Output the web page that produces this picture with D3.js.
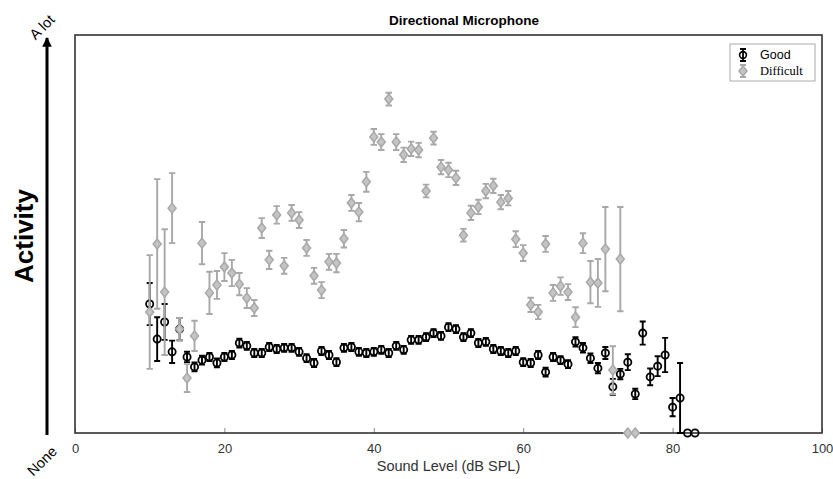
<!DOCTYPE html>
<html>
<head>
<meta charset="utf-8">
<script src="https://cdn.jsdelivr.net/npm/d3@7"></script>
<style>
  body { margin: 0; background: #fff; }
  text { font-family: "Liberation Sans", Arial, sans-serif; }
</style>
</head>
<body>
<script>
var svgWidth = 833;
var svgHeight = 479;

var margin = { top: 35, right: 11, bottom: 46, left: 75 };
var width = svgWidth - margin.left - margin.right;
var height = svgHeight - margin.top - margin.bottom;

// sound levels (dB SPL)
var goodLevels = [10, 11, 12, 13, 14, 15, 16, 17, 18, 19, 20, 21, 22, 23, 24, 25, 26, 27, 28, 29,
  30, 31, 32, 33, 34, 35, 36, 37, 38, 39, 40, 41, 42, 43, 44, 45, 46, 47, 48, 49,
  50, 51, 52, 53, 54, 55, 56, 57, 58, 59, 60, 61, 62, 63, 64, 65, 66, 67, 68, 69,
  70, 71, 72, 73, 74, 75, 76, 77, 78, 79, 80, 81, 82, 83];
var goodMean = [32.4, 23.6, 27.9, 20.4, 26.1, 19.1, 16.6, 18.3, 19.1, 17.6, 19.1, 19.6, 22.6, 21.9, 20.1, 20.1, 21.6, 21.1, 21.4, 21.4,
  20.4, 18.8, 17.6, 20.6, 19.6, 17.8, 21.4, 21.6, 20.4, 20.1, 20.4, 20.9, 20.1, 21.9, 20.9, 23.4, 23.4, 24.1, 25.1, 24.4,
  26.6, 26.1, 24.1, 25.1, 22.6, 22.9, 21.1, 20.6, 20.1, 20.6, 17.8, 17.6, 19.6, 15.3, 19.1, 18.3, 17.3, 22.9, 21.4, 18.8,
  16.3, 20.1, 11.6, 14.8, 17.8, 9.8, 25.1, 14.1, 16.8, 19.6, 6.5, 8.8, 0, 0];
var goodErr = [5.3, 5.5, 4.5, 2.8, 2.8, 1.3, 1.1, 1.1, 1.0, 1.1, 1.0, 1.0, 1.1, 1.0, 1.0, 1.0, 1.0, 1.0, 1.0, 1.0,
  1.0, 1.0, 1.0, 1.0, 1.0, 1.0, 1.0, 1.0, 1.0, 1.0, 1.0, 1.0, 1.0, 1.0, 1.0, 1.0, 1.0, 1.0, 1.0, 1.0,
  1.0, 1.0, 1.0, 1.0, 1.0, 1.0, 1.0, 1.0, 1.0, 1.0, 1.0, 1.0, 1.0, 1.1, 1.0, 1.0, 1.0, 1.2, 1.2, 1.2,
  1.3, 1.5, 2.0, 1.3, 2.0, 1.3, 2.9, 2.1, 2.5, 4.3, 2.3, 8.8, 0, 0];

var diffLevels = [10, 11, 12, 13, 14, 15, 16, 17, 18, 19, 20, 21, 22, 23, 24, 25, 26, 27, 28, 29,
  30, 31, 32, 33, 34, 35, 36, 37, 38, 39, 40, 41, 42, 43, 44, 45, 46, 47, 48, 49,
  50, 51, 52, 53, 54, 55, 56, 57, 58, 59, 60, 61, 62, 63, 64, 65, 66, 67, 68, 69,
  70, 71, 72, 73, 74, 75];
var diffMean = [30.4, 47.5, 35.4, 56.5, 26.1, 13.8, 24.4, 47.7, 35.2, 37.2, 41.7, 40.2, 37.4, 33.9, 31.4, 51.5, 43.5, 54.8, 42.0, 55.3,
  53.5, 46.5, 39.5, 35.9, 43.0, 42.7, 48.8, 57.8, 55.5, 63.1, 74.4, 73.1, 83.9, 73.1, 69.9, 71.4, 71.1, 60.8, 74.1, 66.8,
  66.1, 64.1, 49.7, 55.3, 56.8, 60.8, 62.1, 58.0, 59.0, 48.7, 45.2, 32.2, 30.4, 47.5, 35.2, 36.9, 35.4, 29.1, 47.7, 37.9,
  37.7, 46.2, 15.8, 43.7, 0, 0];
var diffErr = [14.3, 16.3, 15.8, 8.8, 2.8, 3.5, 3.8, 5.3, 5.3, 3.5, 3.5, 3.3, 2.8, 2.5, 2.0, 2.5, 2.3, 2.2, 2.0, 2.0,
  2.0, 2.0, 2.0, 2.0, 2.0, 2.3, 2.2, 2.0, 2.3, 2.5, 2.0, 2.0, 1.6, 2.0, 1.8, 1.8, 1.8, 1.6, 1.6, 1.8,
  1.8, 1.8, 1.6, 1.8, 1.8, 1.8, 1.8, 1.8, 1.8, 2.0, 2.0, 1.8, 1.8, 2.0, 2.0, 2.2, 2.0, 2.5, 2.5, 5.3,
  6.0, 10.6, 6.0, 13.1, 0, 0];

var xTicks = [0, 20, 40, 60, 80, 100];

var goodColor = "#000";
var diffColor = "#a8a8a8";

var goodData = goodLevels.map(function (d, i) {
  return { level: d, mean: goodMean[i], err: goodErr[i] };
});
var diffData = diffLevels.map(function (d, i) {
  return { level: d, mean: diffMean[i], err: diffErr[i] };
});

var svg = d3.select("body")
  .append("svg")
  .attr("width", svgWidth)
  .attr("height", svgHeight);

var chart = svg.append("g")
  .attr("transform", "translate(" + margin.left + "," + margin.top + ")");

var xLinearScale = d3.scaleLinear().domain([0, 100]).range([0, width]);
var yLinearScale = d3.scaleLinear().domain([0, 100]).range([height, 0]);

// x axis with inward ticks
var bottomAxis = d3.axisBottom(xLinearScale)
  .tickValues(xTicks)
  .tickSizeInner(-5)
  .tickSizeOuter(0)
  .tickPadding(11);

var xAxis = chart.append("g")
  .attr("transform", "translate(0," + height + ")")
  .call(bottomAxis);
xAxis.select(".domain").remove();
xAxis.selectAll("line").attr("stroke", "#888");
xAxis.selectAll("text")
  .style("font-size", "13px")
  .attr("fill", "#333");

// frame
chart.append("rect")
  .attr("width", width)
  .attr("height", height)
  .attr("fill", "none")
  .attr("stroke", "#333")
  .attr("stroke-width", 1.6);

// draw one series of error bars + markers
function drawSeries(data, color, marker, capW) {
  var g = chart.append("g");
  var node = g.selectAll("g").data(data).enter().append("g")
    .attr("transform", function (d) {
      return "translate(" + xLinearScale(d.level) + ",0)";
    });

  node.filter(function (d) { return d.err > 0; })
    .append("path")
    .attr("d", function (d) {
      var y0 = yLinearScale(d.mean - d.err);
      var y1 = yLinearScale(d.mean + d.err);
      return "M0," + y0 + "V" + y1 +
        "M" + (-capW) + "," + y0 + "H" + capW +
        "M" + (-capW) + "," + y1 + "H" + capW;
    })
    .attr("stroke", color)
    .attr("stroke-width", 1.9)
    .attr("fill", "none");

  if (marker === "circle") {
    node.append("circle")
      .attr("cy", function (d) { return yLinearScale(d.mean); })
      .attr("r", 3.6)
      .attr("fill", "none")
      .attr("stroke", color)
      .attr("stroke-width", 1.8);
  } else {
    node.append("path")
      .attr("d", function (d) {
        var cy = yLinearScale(d.mean);
        return "M0," + (cy - 5) + "L4," + cy + "L0," + (cy + 5) + "L-4," + cy + "Z";
      })
      .attr("fill", "#c4c4c4")
      .attr("stroke", color)
      .attr("stroke-width", 1.5);
  }
}

drawSeries(goodData, goodColor, "circle", 3);
drawSeries(diffData, diffColor, "diamond", 3.2);

// title
svg.append("text")
  .attr("x", 464)
  .attr("y", 25)
  .attr("text-anchor", "middle")
  .style("font-size", "13.5px")
  .style("font-weight", "bold")
  .text("Directional Microphone");

// x axis label
svg.append("text")
  .attr("x", margin.left + width / 2)
  .attr("y", 471)
  .attr("text-anchor", "middle")
  .style("font-size", "14.5px")
  .attr("fill", "#333")
  .text("Sound Level (dB SPL)");

// activity arrow
svg.append("defs").append("marker")
  .attr("id", "arrowhead")
  .attr("viewBox", "0 0 10 10")
  .attr("refX", 9).attr("refY", 5)
  .attr("markerWidth", 3.2).attr("markerHeight", 3.2)
  .attr("orient", "auto")
  .append("path")
  .attr("d", "M0,0L10,5L0,10Z")
  .attr("fill", "#000");

svg.append("line")
  .attr("x1", 47).attr("y1", 435)
  .attr("x2", 47).attr("y2", 38)
  .attr("stroke", "#000")
  .attr("stroke-width", 3)
  .attr("marker-end", "url(#arrowhead)");

svg.append("text")
  .attr("transform", "translate(33,236) rotate(-90)")
  .attr("text-anchor", "middle")
  .style("font-size", "26px")
  .style("font-weight", "bold")
  .text("Activity");

svg.append("text")
  .attr("transform", "translate(42,27) rotate(-45)")
  .attr("text-anchor", "middle")
  .attr("dy", "0.35em")
  .style("font-size", "14.5px")
  .text("A lot");

svg.append("text")
  .attr("transform", "translate(42,461) rotate(-45)")
  .attr("text-anchor", "middle")
  .attr("dy", "0.35em")
  .style("font-size", "14.5px")
  .text("None");

// legend
var legend = svg.append("g").attr("transform", "translate(730,44)");
legend.append("rect")
  .attr("width", 85).attr("height", 37)
  .attr("fill", "#fff")
  .attr("stroke", "#aaa")
  .attr("stroke-width", 1);

var legendItems = [
  { label: "Good", color: goodColor, marker: "circle", font: "Liberation Sans, Arial, sans-serif" },
  { label: "Difficult", color: diffColor, marker: "diamond", font: "Liberation Serif, Times New Roman, serif" }
];

var item = legend.selectAll(".item").data(legendItems).enter().append("g")
  .attr("transform", function (d, i) { return "translate(13," + (11 + i * 16) + ")"; });

item.append("path")
  .attr("d", "M0,-6V6M-3,-6H3M-3,6H3")
  .attr("stroke", function (d) { return d.color; })
  .attr("stroke-width", 1.8)
  .attr("fill", "none");
item.filter(function (d) { return d.marker === "circle"; })
  .append("circle")
  .attr("r", 3.4)
  .attr("fill", "none")
  .attr("stroke", function (d) { return d.color; })
  .attr("stroke-width", 1.6);
item.filter(function (d) { return d.marker === "diamond"; })
  .append("path")
  .attr("d", "M0,-5L4,0L0,5L-4,0Z")
  .attr("fill", "#c4c4c4")
  .attr("stroke", function (d) { return d.color; })
  .attr("stroke-width", 1.5);

item.append("text")
  .attr("x", 17)
  .attr("dy", "0.35em")
  .style("font-size", "12.5px")
  .style("font-family", function (d) { return d.font; })
  .text(function (d) { return d.label; });
</script>
</body>
</html>
